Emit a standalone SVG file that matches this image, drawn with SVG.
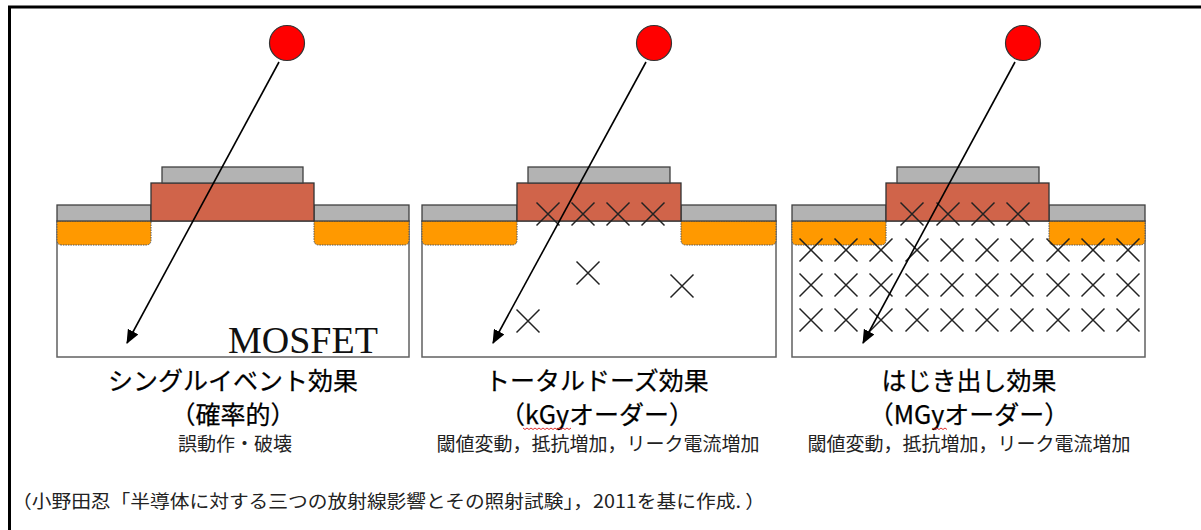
<svg xmlns="http://www.w3.org/2000/svg" xmlns:xlink="http://www.w3.org/1999/xlink" width="1201" height="530" viewBox="0 0 1201 530">
  <style>
    .sub { fill: #ffffff; stroke: #606060; stroke-width: 1.5; }
    .dope { fill: #ff9900; stroke: #555555; stroke-width: 1; stroke-dasharray: 1.5 1; }
    .ox { fill: #b3b3b3; stroke: #404040; stroke-width: 1.3; }
    .gate { fill: #d0644a; stroke: #333333; stroke-width: 1.3; }
    .ion { fill: #ff0000; stroke: #333333; stroke-width: 1.2; }
    .dmg { stroke: #222222; stroke-width: 1.5; fill: none; }
    .track { stroke: #000000; stroke-width: 1.6; fill: none; }
    .jp { font-family: "Noto Sans CJK JP", "Noto Sans", sans-serif; fill: #000000; text-anchor: middle; }
    .t1 { font-size: 25px; stroke: #000000; stroke-width: 0.25; }
    .t3 { font-size: 19px; fill: #222222; }
    .wave { stroke: #e03030; stroke-width: 1; fill: none; }
    .frame { stroke: #000000; stroke-width: 3; fill: none; }
  </style>
  <defs>
    <marker id="head" markerUnits="userSpaceOnUse" markerWidth="14" markerHeight="12" refX="13" refY="6" orient="auto">
      <path d="M0,0 L14,6 L0,12 z" fill="#000000"/>
    </marker>
    <path id="x" d="M-11.5,-11.5 L11.5,11.5 M11.5,-11.5 L-11.5,11.5"/>
  </defs>

  <rect width="1201" height="530" fill="#ffffff"/>

  <!-- outer frame: left and top edges only -->
  <path class="frame" d="M9.5,530 L9.5,7 L1201,7"/>

  <!-- MOSFET cross-section 1: single event -->
  <g id="device-see">
    <rect class="sub" x="57" y="221" width="352" height="136"/>
    <path class="dope" d="M57,221 L151,221 L151,240 Q151,245 146,245 L62,245 Q57,245 57,240 Z"/>
    <path class="dope" d="M314,221 L409,221 L409,240 Q409,245 404,245 L319,245 Q314,245 314,240 Z"/>
    <rect class="ox" x="57" y="205" width="94" height="16"/>
    <rect class="ox" x="314" y="205" width="95" height="16"/>
    <rect class="gate" x="151" y="183" width="163" height="38"/>
    <rect class="ox" x="162" y="167" width="141" height="16"/>
    <text x="228" y="353" font-family="Liberation Serif, serif" font-size="38" fill="#111111">MOSFET</text>
  </g>

  <!-- MOSFET cross-section 2: total dose -->
  <g id="device-tid">
    <rect class="sub" x="422" y="221" width="354" height="136"/>
    <path class="dope" d="M422,221 L517,221 L517,240 Q517,245 512,245 L427,245 Q422,245 422,240 Z"/>
    <path class="dope" d="M681,221 L776,221 L776,240 Q776,245 771,245 L686,245 Q681,245 681,240 Z"/>
    <rect class="ox" x="422" y="205" width="95" height="16"/>
    <rect class="ox" x="681" y="205" width="95" height="16"/>
    <rect class="gate" x="517" y="183" width="164" height="38"/>
    <rect class="ox" x="528" y="167" width="142" height="16"/>
    <g class="dmg">
      <use xlink:href="#x" x="548" y="214"/>
      <use xlink:href="#x" x="583" y="214"/>
      <use xlink:href="#x" x="618" y="214"/>
      <use xlink:href="#x" x="653" y="214"/>
      <use xlink:href="#x" x="588" y="273"/>
      <use xlink:href="#x" x="682" y="286"/>
      <use xlink:href="#x" x="528" y="321"/>
    </g>
  </g>

  <!-- MOSFET cross-section 3: displacement damage -->
  <g id="device-dd">
    <rect class="sub" x="792" y="221" width="353" height="136"/>
    <path class="dope" d="M792,221 L886,221 L886,240 Q886,245 881,245 L797,245 Q792,245 792,240 Z"/>
    <path class="dope" d="M1049,221 L1145,221 L1145,240 Q1145,245 1140,245 L1054,245 Q1049,245 1049,240 Z"/>
    <rect class="ox" x="792" y="205" width="94" height="16"/>
    <rect class="ox" x="1049" y="205" width="96" height="16"/>
    <rect class="gate" x="886" y="183" width="163" height="38"/>
    <rect class="ox" x="897" y="167" width="142" height="16"/>
    <g class="dmg">
      <use xlink:href="#x" x="912" y="214"/>
      <use xlink:href="#x" x="948" y="214"/>
      <use xlink:href="#x" x="983" y="214"/>
      <use xlink:href="#x" x="1018" y="214"/>
      <g id="row">
        <use xlink:href="#x" x="811" y="250"/>
        <use xlink:href="#x" x="846" y="250"/>
        <use xlink:href="#x" x="881" y="250"/>
        <use xlink:href="#x" x="917" y="250"/>
        <use xlink:href="#x" x="952" y="250"/>
        <use xlink:href="#x" x="987" y="250"/>
        <use xlink:href="#x" x="1022" y="250"/>
        <use xlink:href="#x" x="1058" y="250"/>
        <use xlink:href="#x" x="1093" y="250"/>
        <use xlink:href="#x" x="1128" y="250"/>
      </g>
      <use xlink:href="#row" y="35"/>
      <use xlink:href="#row" y="70"/>
    </g>
  </g>

  <!-- particle tracks -->
  <g id="connectors">
    <line class="track" x1="279" y1="62" x2="127" y2="343" marker-end="url(#head)"/>
    <line class="track" x1="646" y1="62" x2="493" y2="343" marker-end="url(#head)"/>
    <line class="track" x1="1015" y1="62" x2="863" y2="343" marker-end="url(#head)"/>
  </g>

  <!-- incident particles -->
  <g id="particle-1"><circle class="ion" cx="287" cy="43" r="17.5"/></g>
  <g id="particle-2"><circle class="ion" cx="654" cy="43" r="17.5"/></g>
  <g id="particle-3"><circle class="ion" cx="1023" cy="43" r="17.5"/></g>

  <!-- captions -->
  <g id="label-see" class="jp">
    <text class="t1" x="233" y="390">シングルイベント効果</text>
    <text class="t1" x="233" y="424">（確率的）</text>
    <text class="t3" x="235" y="451">誤動作・破壊</text>
  </g>
  <g id="label-tid" class="jp">
    <text class="t1" x="597" y="390">トータルドーズ効果</text>
    <text class="t1" x="597" y="424">（kGyオーダー）</text>
    <text class="t3" x="598" y="451">閾値変動，抵抗増加，リーク電流増加</text>
    <path class="wave" d="M523,428 l2,1.5 l2,-1.5 l2,1.5 l2,-1.5 l2,1.5 l2,-1.5 l2,1.5 l2,-1.5 l2,1.5 l2,-1.5 l2,1.5 l2,-1.5 l2,1.5 l2,-1.5 l2,1.5 l2,-1.5 l2,1.5 l2,-1.5 l2,1.5 l2,-1.5 l2,1.5 l2,-1.5 l2,1.5 l2,-1.5"/>
  </g>
  <g id="label-dd" class="jp">
    <text class="t1" x="969" y="390">はじき出し効果</text>
    <text class="t1" x="969" y="424">（MGyオーダー）</text>
    <text class="t3" x="969" y="451">閾値変動，抵抗増加，リーク電流増加</text>
    <path class="wave" d="M933,428 l2,1.5 l2,-1.5 l2,1.5 l2,-1.5 l2,1.5 l2,-1.5 l2,1.5"/>
  </g>

  <!-- source note -->
  <g id="note">
    <text x="12" y="508" font-family="Noto Sans CJK JP, sans-serif" font-size="18" fill="#222222" textLength="753" lengthAdjust="spacingAndGlyphs">（小野田忍「半導体に対する三つの放射線影響とその照射試験」，2011を基に作成. ）</text>
  </g>
</svg>
